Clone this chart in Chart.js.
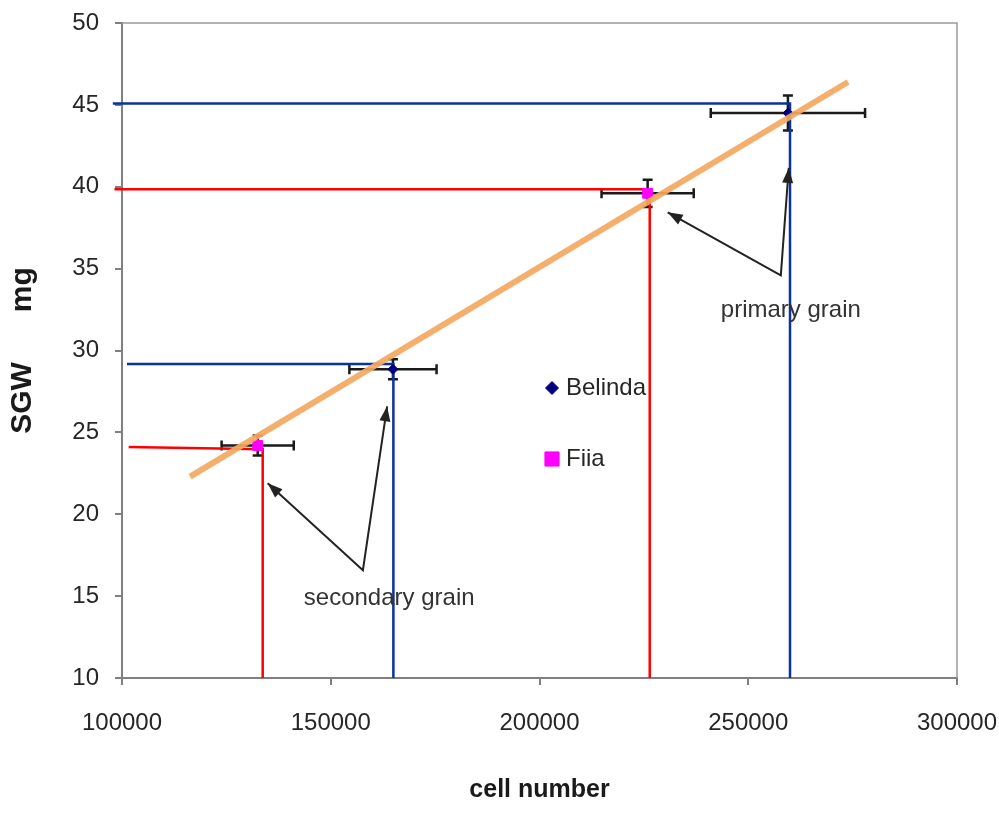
<!DOCTYPE html>
<html>
<head>
<meta charset="utf-8">
<title>SGW vs cell number</title>
<script src="https://cdn.jsdelivr.net/npm/chart.js@4.4.1/dist/chart.umd.min.js"></script>
<style>
  html, body { margin: 0; padding: 0; background: #fff; }
  #wrap { position: relative; width: 999px; height: 815px; }
</style>
</head>
<body>
<div id="wrap"><canvas id="sgwChart"></canvas></div>
<script>
// Single grain weight (SGW) against endosperm cell number

// Axis ticks
const cellTicks = [100000, 150000, 200000, 250000, 300000];
const sgwTicks = [10, 15, 20, 25, 30, 35, 40, 45, 50];

// Belinda: secondary grain, primary grain
const belindaCells = [164900, 259500];
const belindaSGW = [28.85, 44.5];
const belindaCellErr = [10440, 18480];
const belindaSGWErr = [0.61, 1.07];

// Fiia: secondary grain, primary grain
const fiiaCells = [132500, 225900];
const fiiaSGW = [24.2, 39.6];
const fiiaCellErr = [8640, 11040];
const fiiaSGWErr = [0.61, 0.83];

// Guide lines: from the y axis across to each grain, then down to the x axis
const belindaPrimaryGuideX = [97800, 260000, 260000];
const belindaPrimaryGuideY = [45.08, 45.08, 10];
const belindaSecondaryGuideX = [101200, 165000, 165000];
const belindaSecondaryGuideY = [29.18, 29.18, 10];
const fiiaPrimaryGuideX = [98200, 226400, 226400];
const fiiaPrimaryGuideY = [39.84, 39.84, 10];
const fiiaSecondaryGuideX = [101600, 133700, 133700];
const fiiaSecondaryGuideY = [24.1, 23.97, 10];

// Trend line
const trendCells = [116300, 273900];
const trendSGW = [22.3, 46.4];

// Annotation arrows: tip, corner, tip
const primaryArrowX = [230700, 257800, 259700];
const primaryArrowY = [38.44, 34.59, 41.15];
const secondaryArrowX = [134900, 157700, 163500];
const secondaryArrowY = [21.89, 16.58, 26.59];

// Annotation labels
const noteTexts = ['primary grain', 'secondary grain'];
const noteCells = [260200, 164000];
const noteSGW = [32.45, 14.87];

const FONT = "'Liberation Sans', Arial, sans-serif";
Chart.defaults.font.family = FONT;

function toPoints(xs, ys) {
    return xs.map((v, i) => ({ x: v, y: ys[i] }));
}

function guide(label, xs, ys, color) {
    return {
        label: label,
        data: toPoints(xs, ys),
        showLine: true,
        borderColor: color,
        borderWidth: 2.5,
        pointRadius: 0,
        pointHoverRadius: 0,
        clip: false,
        order: 2
    };
}

// Error bars, drawn under the datasets
const errorBars = {
    id: 'errorBars',
    beforeDatasetsDraw(chart) {
        const { ctx, scales: { x, y } } = chart;
        const cap = 5;
        const sets = [
            [belindaCells, belindaSGW, belindaCellErr, belindaSGWErr],
            [fiiaCells, fiiaSGW, fiiaCellErr, fiiaSGWErr]
        ];
        ctx.save();
        ctx.strokeStyle = '#1a1a1a';
        ctx.lineWidth = 2.5;
        sets.forEach(([cx, cy, ex, ey]) => {
            cx.forEach((v, i) => {
                const px = x.getPixelForValue(v);
                const py = y.getPixelForValue(cy[i]);
                const x0 = x.getPixelForValue(v - ex[i]);
                const x1 = x.getPixelForValue(v + ex[i]);
                const y0 = y.getPixelForValue(cy[i] + ey[i]);
                const y1 = y.getPixelForValue(cy[i] - ey[i]);
                ctx.beginPath();
                ctx.moveTo(x0, py); ctx.lineTo(x1, py);
                ctx.moveTo(x0, py - cap); ctx.lineTo(x0, py + cap);
                ctx.moveTo(x1, py - cap); ctx.lineTo(x1, py + cap);
                ctx.moveTo(px, y0); ctx.lineTo(px, y1);
                ctx.moveTo(px - cap, y0); ctx.lineTo(px + cap, y0);
                ctx.moveTo(px - cap, y1); ctx.lineTo(px + cap, y1);
                ctx.stroke();
            });
        });
        ctx.restore();
    }
};

// Top and right edges of the plot frame
const plotFrame = {
    id: 'plotFrame',
    beforeDatasetsDraw(chart) {
        const { ctx, chartArea: a } = chart;
        ctx.save();
        ctx.strokeStyle = '#9a9a9a';
        ctx.lineWidth = 1.5;
        ctx.beginPath();
        ctx.moveTo(a.left, a.top);
        ctx.lineTo(a.right, a.top);
        ctx.lineTo(a.right, a.bottom);
        ctx.stroke();
        ctx.restore();
    }
};

function arrowHead(ctx, fx, fy, tx, ty) {
    const ang = Math.atan2(ty - fy, tx - fx);
    const len = 15, half = 5.5;
    ctx.beginPath();
    ctx.moveTo(tx, ty);
    ctx.lineTo(tx - len * Math.cos(ang) + half * Math.sin(ang), ty - len * Math.sin(ang) - half * Math.cos(ang));
    ctx.lineTo(tx - len * Math.cos(ang) - half * Math.sin(ang), ty - len * Math.sin(ang) + half * Math.cos(ang));
    ctx.closePath();
    ctx.fill();
}

// Arrows and their labels
const annotations = {
    id: 'annotations',
    afterDatasetsDraw(chart) {
        const { ctx, scales: { x, y } } = chart;
        ctx.save();
        ctx.strokeStyle = '#222';
        ctx.fillStyle = '#222';
        ctx.lineWidth = 2;
        [[primaryArrowX, primaryArrowY], [secondaryArrowX, secondaryArrowY]].forEach(([xs, ys]) => {
            const p = xs.map((v, i) => [x.getPixelForValue(v), y.getPixelForValue(ys[i])]);
            ctx.beginPath();
            ctx.moveTo(p[0][0], p[0][1]);
            ctx.lineTo(p[1][0], p[1][1]);
            ctx.lineTo(p[2][0], p[2][1]);
            ctx.stroke();
            arrowHead(ctx, p[1][0], p[1][1], p[0][0], p[0][1]);
            arrowHead(ctx, p[1][0], p[1][1], p[2][0], p[2][1]);
        });
        ctx.fillStyle = '#333';
        ctx.font = '24px ' + FONT;
        ctx.textAlign = 'center';
        ctx.textBaseline = 'middle';
        noteTexts.forEach((t, i) => {
            ctx.fillText(t, x.getPixelForValue(noteCells[i]), y.getPixelForValue(noteSGW[i]));
        });
        ctx.restore();
    }
};

// Legend sitting inside the plot area
const insideLegend = {
    id: 'insideLegend',
    afterDatasetsDraw(chart) {
        const { ctx, chartArea: a } = chart;
        const rows = [
            { label: 'Belinda', style: 'rectRot', radius: 6.5, color: '#000080', dy: 365 },
            { label: 'Fiia', style: 'rect', radius: 10, color: '#ff00ff', dy: 436 }
        ];
        ctx.save();
        ctx.font = '24px ' + FONT;
        ctx.textAlign = 'left';
        ctx.textBaseline = 'middle';
        rows.forEach(r => {
            const cx = a.left + 430, cy = a.top + r.dy;
            ctx.fillStyle = r.color;
            ctx.strokeStyle = r.color;
            Chart.helpers.drawPoint(ctx, { pointStyle: r.style, radius: r.radius, rotation: 0, borderWidth: 1 }, cx, cy);
            ctx.fillStyle = '#262626';
            ctx.fillText(r.label, cx + 14, cy);
        });
        ctx.restore();
    }
};

const chart = new Chart(document.getElementById('sgwChart'), {
    type: 'scatter',
    data: {
        datasets: [
            {
                label: 'Trend',
                data: toPoints(trendCells, trendSGW),
                showLine: true,
                borderColor: 'rgba(244, 168, 96, 0.92)',
                borderWidth: 6,
                pointRadius: 0,
                pointHoverRadius: 0,
                clip: false,
                order: 0
            },
            {
                label: 'Belinda',
                data: toPoints(belindaCells, belindaSGW),
                pointStyle: 'rectRot',
                pointRadius: 5,
                backgroundColor: '#000080',
                borderColor: '#000080',
                order: 1
            },
            {
                label: 'Fiia',
                data: toPoints(fiiaCells, fiiaSGW),
                pointStyle: 'rect',
                pointRadius: 7,
                backgroundColor: '#ff00ff',
                borderColor: '#ff00ff',
                order: 1
            },
            guide('Belinda primary', belindaPrimaryGuideX, belindaPrimaryGuideY, '#0a32a0'),
            guide('Belinda secondary', belindaSecondaryGuideX, belindaSecondaryGuideY, '#0a32a0'),
            guide('Fiia primary', fiiaPrimaryGuideX, fiiaPrimaryGuideY, '#ff0000'),
            guide('Fiia secondary', fiiaSecondaryGuideX, fiiaSecondaryGuideY, '#ff0000')
        ]
    },
    options: {
        responsive: true,
        maintainAspectRatio: false,
        animation: false,
        layout: {
            padding: { top: 23, right: 42, left: 0, bottom: 0 }
        },
        plugins: {
            legend: { display: false },
            tooltip: { enabled: false }
        },
        scales: {
            x: {
                type: 'linear',
                min: cellTicks[0],
                max: cellTicks[cellTicks.length - 1],
                afterBuildTicks: s => { s.ticks = cellTicks.map(v => ({ value: v })); },
                afterFit: s => { s.height = 137; s.paddingLeft = 0; s.paddingRight = 0; },
                ticks: {
                    callback: v => String(v),
                    color: '#262626',
                    font: { size: 24 },
                    padding: 24,
                    maxRotation: 0
                },
                grid: { drawOnChartArea: false, tickLength: 7, color: '#808080', lineWidth: 2 },
                border: { color: '#808080', width: 2 },
                title: {
                    display: true,
                    text: 'cell number',
                    color: '#1a1a1a',
                    font: { size: 25, weight: 'bold', lineHeight: 1.2 },
                    padding: { top: 0, bottom: 10 }
                }
            },
            y: {
                type: 'linear',
                min: sgwTicks[0],
                max: sgwTicks[sgwTicks.length - 1],
                afterBuildTicks: s => { s.ticks = sgwTicks.map(v => ({ value: v })); },
                afterFit: s => { s.width = 122; s.paddingTop = 0; s.paddingBottom = 0; },
                ticks: {
                    callback: v => String(v),
                    color: '#262626',
                    font: { size: 24 },
                    padding: 16
                },
                grid: { drawOnChartArea: false, tickLength: 7, color: '#808080', lineWidth: 2 },
                border: { color: '#808080', width: 2 },
                title: {
                    display: true,
                    text: 'SGW      mg',
                    color: '#1a1a1a',
                    font: { size: 30, weight: 'bold', lineHeight: 1.2 },
                    padding: { top: 5, bottom: 0 }
                }
            }
        }
    },
    plugins: [plotFrame, errorBars, annotations, insideLegend]
});
</script>
</body>
</html>
